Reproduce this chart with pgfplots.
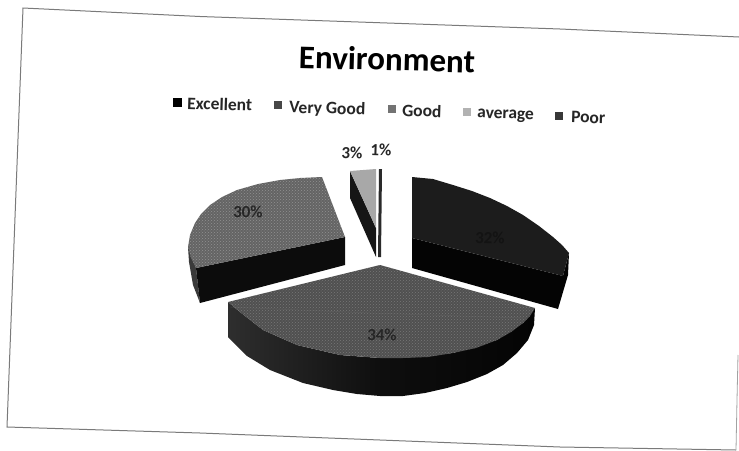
\documentclass[border=0pt]{standalone}
\usepackage{pgfplots}
\pgfplotsset{compat=1.18}
\usepackage{fontspec}
\usetikzlibrary{patterns}
\setmainfont{Carlito}
\definecolor{exT}{HTML}{1C1C1C}
\definecolor{exS}{HTML}{040404}
\definecolor{vgT}{HTML}{505050}
\definecolor{vgL}{HTML}{2E2E2E}
\definecolor{vgM}{HTML}{0E0E0E}
\definecolor{gdT}{HTML}{646464}
\definecolor{gdS}{HTML}{0C0C0C}
\definecolor{gdL}{HTML}{3A3A3A}
\definecolor{avT}{HTML}{A8A8A8}
\definecolor{avS}{HTML}{161616}
\definecolor{poT}{HTML}{2A2A2A}
\definecolor{frameC}{HTML}{7A7A7A}
\definecolor{lab}{HTML}{131313}
\begin{document}
\begin{tikzpicture}
\path[use as bounding box] (0,0) rectangle (739pt,450pt);
\begin{axis}[
  scale only axis, width=739pt, height=450pt,
  xmin=0, xmax=739, ymin=0, ymax=450, y dir=reverse,
  hide axis, clip=true,
]
% scanned frame
\addplot[frameC, line width=1pt] coordinates {(739,37) (560,29) (200,16.5) (23,8) (7,427) (200,433) (560,447) (736,450)};
\addplot[frameC!70, line width=0.8pt] coordinates {(738,355) (737,400) (736,450)};

% Excellent 32%
\addplot[fill=exS, draw=none] coordinates {(412,238) (563,276) (569,253) (568,275) (558,309) (412,268)} -- cycle;
\addplot[fill=exT, draw=none] coordinates {(412,177) (433,179) (453,185) (472,191) (490,198) (507,206) (523,215) (539,226) (553,237) (562,245) (569,253) (563,276) (412,238)} -- cycle;

% Good 30%
\addplot[fill=gdL, draw=none] coordinates {(188,247) (189,262) (193,285) (200,303) (196,268)} -- cycle;
\addplot[fill=gdS, draw=none] coordinates {(196,268) (345,237) (345,265) (200,303)} -- cycle;
\addplot[fill=gdT, draw=none] coordinates {(322,177) (345,237) (196,268) (191,258) (188,247) (190,235) (195,223) (201,214) (210,205) (222,197) (237,190) (258,184) (280,180) (300,178)} -- cycle;
\addplot[pattern=crosshatch dots, pattern color=white!75!black, draw=none, opacity=0.5] coordinates {(322,177) (345,237) (196,268) (191,258) (188,247) (190,235) (195,223) (201,214) (210,205) (222,197) (237,190) (258,184) (280,180) (300,178)} -- cycle;

% average 3%
\addplot[fill=avS, draw=none] coordinates {(350,171) (376,228) (376,257) (350,198)} -- cycle;
\addplot[fill=avT, draw=none] coordinates {(350,171) (376,169) (376,228)} -- cycle;

% Poor 1%
\addplot[fill=poT, draw=none] coordinates {(379,169) (382,169) (381,257) (378,257)} -- cycle;

% Very Good 34%
\addplot[left color=vgL, right color=exS, middle color=vgM, draw=none] coordinates {(535,308) (534,325) (528,340) (517,353) (503,365) (487,374) (467,382) (447,388) (425,393) (403,396) (380,396) (357,394) (333,390) (303,383) (270,370) (247,356) (228,337) (228,302) (240,312) (263,330) (297,345) (340,355) (380,358) (403,358) (453,353) (497,340) (523,323)} -- cycle;
\addplot[fill=vgT, draw=none] coordinates {(380,265) (535,308) (530,316) (523,323) (511,332) (497,340) (476,348) (453,353) (428,357) (403,358) (380,358) (340,355) (297,345) (263,330) (240,312) (228,302)} -- cycle;
\addplot[pattern=crosshatch dots, pattern color=white!70!black, draw=none, opacity=0.4] coordinates {(380,265) (535,308) (530,316) (523,323) (511,332) (497,340) (476,348) (453,353) (428,357) (403,358) (380,358) (340,355) (297,345) (263,330) (240,312) (228,302)} -- cycle;
\addplot[black!60, line width=0.4pt, opacity=0.6] coordinates {(230,307) (370,313) (523,318)};

% legend squares
\addplot[only marks, mark=square*, mark size=3.8pt, mark options={fill=black, draw=black}] coordinates {(177,102)};
\addplot[only marks, mark=square*, mark size=3.6pt, mark options={fill=black!72, draw=black!72}] coordinates {(278,105)};
\addplot[only marks, mark=square*, mark size=3.6pt, mark options={fill=black!55, draw=black!55}] coordinates {(392,109)};
\addplot[only marks, mark=square*, mark size=3.6pt, mark options={fill=black!30, draw=black!30}] coordinates {(467,112)};
\addplot[only marks, mark=square*, mark size=3.6pt, mark options={fill=black!78, draw=black!78}] coordinates {(559,116)};

% texts
\node[font=\fontsize{33}{33}\selectfont\bfseries, rotate=-1.5, black] at (axis cs:387,59) {Environment};
\begin{scope}[every node/.style={font=\fontsize{17.5}{18}\selectfont\bfseries, rotate=-1.8, text=black!85, anchor=west, inner sep=0pt}]
\node at (axis cs:187,103) {Excellent};
\node at (axis cs:289,108) {Very Good};
\node at (axis cs:402,110) {Good};
\node at (axis cs:477,115) {average};
\node at (axis cs:571,117) {Poor};
\end{scope}
\begin{scope}[every node/.style={font=\fontsize{17}{18}\selectfont\bfseries, rotate=-1.8, inner sep=0pt}]
\node[text=black!85] at (axis cs:248,212) {30\%};
\node[text=black!85] at (axis cs:382,335) {34\%};
\node[text=black!85] at (axis cs:352,153) {3\%};
\node[text=black!85] at (axis cs:381,150) {1\%};
\node[text=lab] at (axis cs:490,238) {32\%};
\end{scope}
\end{axis}
\end{tikzpicture}
\end{document}
